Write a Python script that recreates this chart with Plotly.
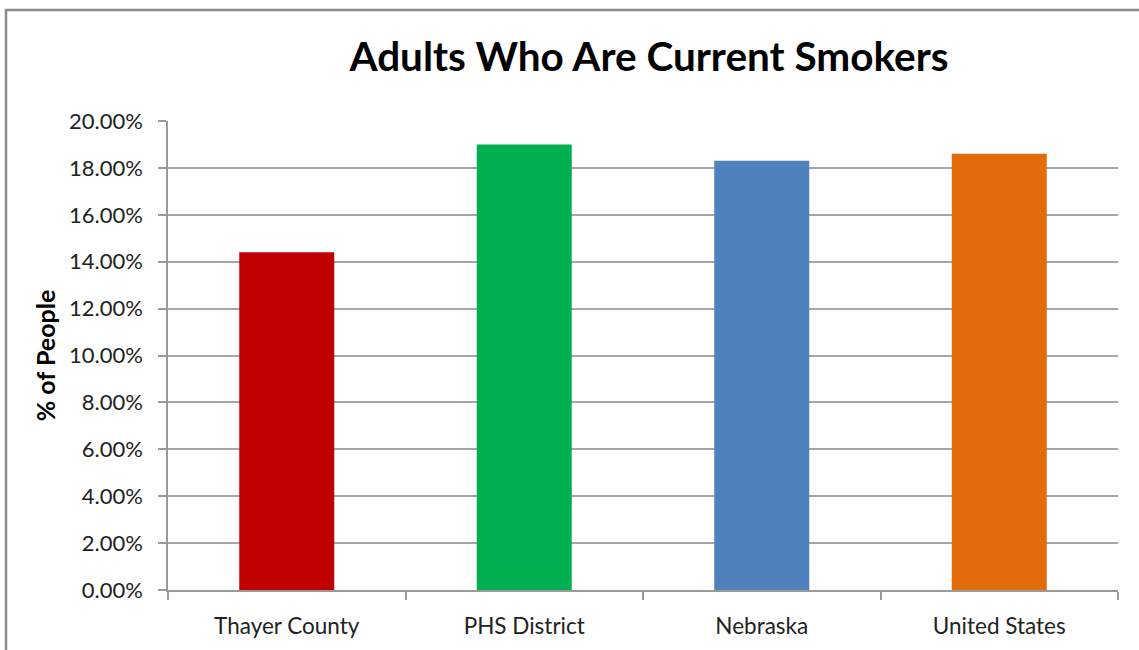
import plotly.graph_objects as go

categories = ["Thayer County", "PHS District", "Nebraska", "United States"]
values = [0.144, 0.190, 0.183, 0.186]
colors = ["#C00000", "#00B050", "#4F81BD", "#E36C0A"]
tick_vals = [0.00, 0.02, 0.04, 0.06, 0.08, 0.10, 0.12, 0.14, 0.16, 0.18, 0.20]
tick_text = ["0.00%", "2.00%", "4.00%", "6.00%", "8.00%", "10.00%", "12.00%",
             "14.00%", "16.00%", "18.00%", "20.00%"]

FONT = "Lato, sans-serif"

fig = go.Figure(go.Bar(
    x=categories, y=values, marker=dict(color=colors, line=dict(width=0)),
    width=0.4,
))

W, H = 1139, 650
L, R, T, B = 168, 21, 121, 60
pw, ph = W - L - R, H - T - B

def px_x(px):
    return (px - L) / pw

def px_y(py):
    return (H - B - py) / ph

fig.update_layout(
    width=W, height=H,
    margin=dict(l=L, r=R, t=T, b=B, pad=0),
    paper_bgcolor="white", plot_bgcolor="white",
    showlegend=False,
    font=dict(family=FONT, color="#222222", size=22),
    title=dict(text="<b>Adults Who Are Current Smokers</b>", x=649 / W, xanchor="center",
               y=1 - 57 / H, yanchor="middle",
               font=dict(family=FONT, size=40.5, color="#000000")),
    xaxis=dict(
        showline=True, linecolor="#999999", linewidth=1.5,
        ticks="outside", tickson="boundaries", ticklen=8, tickcolor="#999999", tickwidth=1.5,
        tickfont=dict(size=22.5, family=FONT, color="#222222"),
        ticklabelstandoff=15,
        showgrid=False, fixedrange=True,
    ),
    yaxis=dict(
        range=[0, 0.20], tickvals=tick_vals, ticktext=tick_text,
        showline=True, linecolor="#999999", linewidth=1.5,
        ticks="outside", ticklen=8, tickcolor="#999999", tickwidth=1.5,
        showgrid=True, gridcolor="#a6a6a6", gridwidth=1.5,
        tickfont=dict(size=22, family=FONT, color="#222222"),
        ticklabelstandoff=11,
        title=dict(text="<b>% of People</b>", font=dict(size=25, family=FONT, color="#000000"),
                   standoff=6),
        zeroline=False, fixedrange=True,
    ),
    shapes=[dict(type="rect", xref="paper", yref="paper",
                 x0=px_x(6), x1=px_x(1150), y0=px_y(10), y1=px_y(670),
                 line=dict(color="#8c8c8c", width=2.5), fillcolor="rgba(0,0,0,0)",
                 layer="below")],
)

fig.write_html("out.html")
